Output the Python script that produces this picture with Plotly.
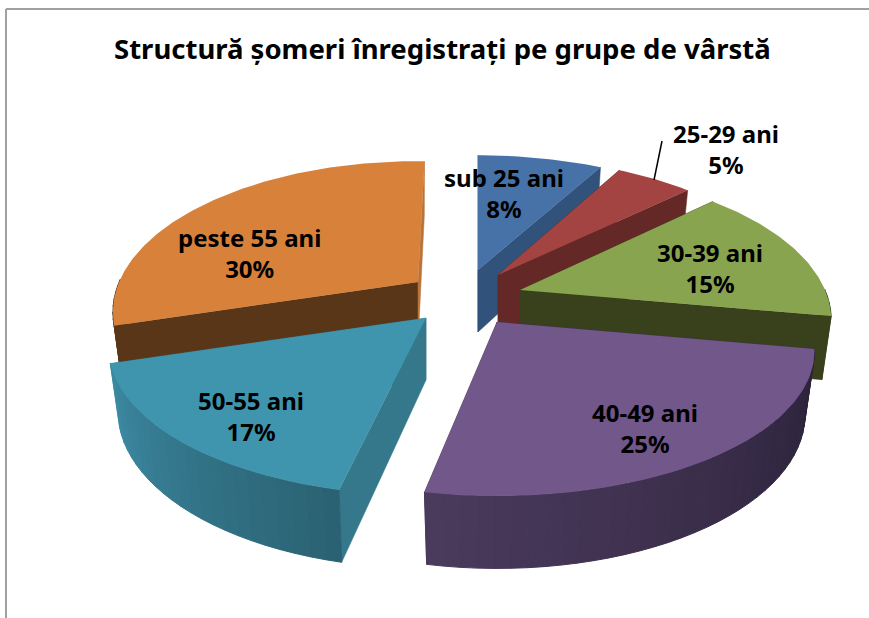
import math
import plotly.graph_objects as go

# ---- data ----
categories = ["sub 25 ani", "25-29 ani", "30-39 ani", "40-49 ani", "50-55 ani", "peste 55 ani"]
values = [8, 5, 15, 25, 17, 30]
title_text = "Structură șomeri înregistrați pe grupe de vârstă"

# ---- styles / layout ----
W, H = 869, 618
FONT = "Noto Sans"
LABEL_SIZE = 24
TOP = ["#4772a8", "#a44442", "#88a44e", "#72578b", "#4095ae", "#d8813b"]
RADIAL_START = ["#31527a", "#642927", "#38411c", "#3e3050", "#35788b", "#5a3618"]
RADIAL_END = ["#31527a", "#642927", "#38411c", "#3e3050", "#35788b", "#b8743a"]
WALL_A = ["#31527a", "#642927", "#38411c", "#2a2138", "#2b6273", "#5a3618"]
WALL_B = ["#31527a", "#642927", "#38411c", "#4a3a5c", "#3c8aa3", "#5a3618"]
APEX = [(478, 270), (498, 275), (520, 290), (497, 322), (426, 318), (418, 282)]
SCALE_X = [0.98, 0.97, 1.00, 1.02, 1.02, 0.98]
SCALE_Y = [0.95, 0.97, 1.00, 0.96, 0.98, 1.00]
TURN_START = [0, 0, -0.8, 0, 2.2, 1.5]
TURN_END = [0, 0, -0.8, 0, 0.5, 1.5]
LABEL_POS = [(504, 193), (726, 149), (710, 268), (645, 428), (251, 416), (249, 253)]
DRAW_ORDER = [0, 1, 2, 5, 4, 3]
A, B, K = 305.0, 145.0, 0.2
DEPTH = 62


def project(theta, i):
    X, Y = math.sin(theta), math.cos(theta)
    d = 1 + K * Y
    return SCALE_X[i] * A * X / d, -SCALE_Y[i] * B * Y / d


def top_pt(i, theta):
    dx, dy = project(theta, i)
    return APEX[i][0] + dx, APEX[i][1] + dy


def bottom_pt(i, theta):
    dx, dy = project(theta, i)
    return APEX[i][0] + dx * 0.97, APEX[i][1] + DEPTH + dy * 1.06


def hexmix(c1, c2, t):
    a = [int(c1[j:j + 2], 16) for j in (1, 3, 5)]
    b = [int(c2[j:j + 2], 16) for j in (1, 3, 5)]
    return "#%02x%02x%02x" % tuple(round(p + (q - p) * t) for p, q in zip(a, b))


def poly(points, color, outline=0.0):
    xs = [p[0] for p in points] + [points[0][0]]
    ys = [p[1] for p in points] + [points[0][1]]
    return go.Scatter(x=xs, y=ys, mode="lines", fill="toself", fillcolor=color,
                      line=dict(color=color, width=outline), hoverinfo="skip", showlegend=False)


total = sum(values)
edges = [0.0]
for v in values:
    edges.append(edges[-1] + v / total * 2 * math.pi)

traces = []
STEP = math.radians(2.5)
for i in DRAW_ORDER:
    t0 = edges[i] + math.radians(TURN_START[i])
    t1 = edges[i + 1] + math.radians(TURN_END[i])
    ap = APEX[i]
    bot_ap = (ap[0], ap[1] + DEPTH)
    # radial side faces
    for t, col in ((t0, RADIAL_START[i]), (t1, RADIAL_END[i])):
        traces.append(poly([ap, top_pt(i, t), bottom_pt(i, t), bot_ap], col, 0.5))
    # outer curved wall, shaded along the angle (only the part that faces the viewer)
    n = max(2, int((t1 - t0) / STEP))
    for k in range(n):
        a = t0 + (t1 - t0) * k / n
        b = t0 + (t1 - t0) * (k + 1) / n
        if math.cos((a + b) / 2) > 0.02:
            continue
        col = hexmix(WALL_A[i], WALL_B[i], k / max(1, n - 1))
        traces.append(poly([top_pt(i, a), top_pt(i, b), bottom_pt(i, b), bottom_pt(i, a)], col, 1))
    # top surface
    m = max(4, int((t1 - t0) / math.radians(1)))
    arc = [top_pt(i, t0 + (t1 - t0) * k / m) for k in range(m + 1)]
    traces.append(poly([ap] + arc, TOP[i]))

fig = go.Figure(traces)

annotations = [
    dict(x=x, y=y, text=f"<b>{c}<br>{v}%</b>", showarrow=False, xanchor="center", yanchor="middle",
         font=dict(family=FONT, size=LABEL_SIZE, color="#000000"))
    for c, v, (x, y) in zip(categories, values, LABEL_POS)
]
annotations.append(dict(x=442, y=48, text=f"<b>{title_text}</b>", showarrow=False,
                        xanchor="center", yanchor="middle",
                        font=dict(family=FONT, size=27.5, color="#000000")))

BORDER = dict(color="#a0a0a0", width=2)
shapes = [
    dict(type="line", x0=6, y0=9, x1=W, y1=9, line=BORDER, layer="below"),
    dict(type="line", x0=6, y0=9, x1=6, y1=H, line=BORDER, layer="below"),
    dict(type="line", x0=662, y0=141, x1=654, y1=180, line=dict(color="#000000", width=1.5)),
]

fig.update_layout(
    width=W, height=H, margin=dict(l=0, r=0, t=0, b=0), autosize=False,
    paper_bgcolor="#ffffff", plot_bgcolor="#ffffff",
    xaxis=dict(range=[0, W], visible=False, fixedrange=True),
    yaxis=dict(range=[H, 0], visible=False, fixedrange=True),
    annotations=annotations, shapes=shapes, showlegend=False,
)
fig.write_html("out.html", config={"displayModeBar": False},
               post_script="document.body.style.margin='0';")
